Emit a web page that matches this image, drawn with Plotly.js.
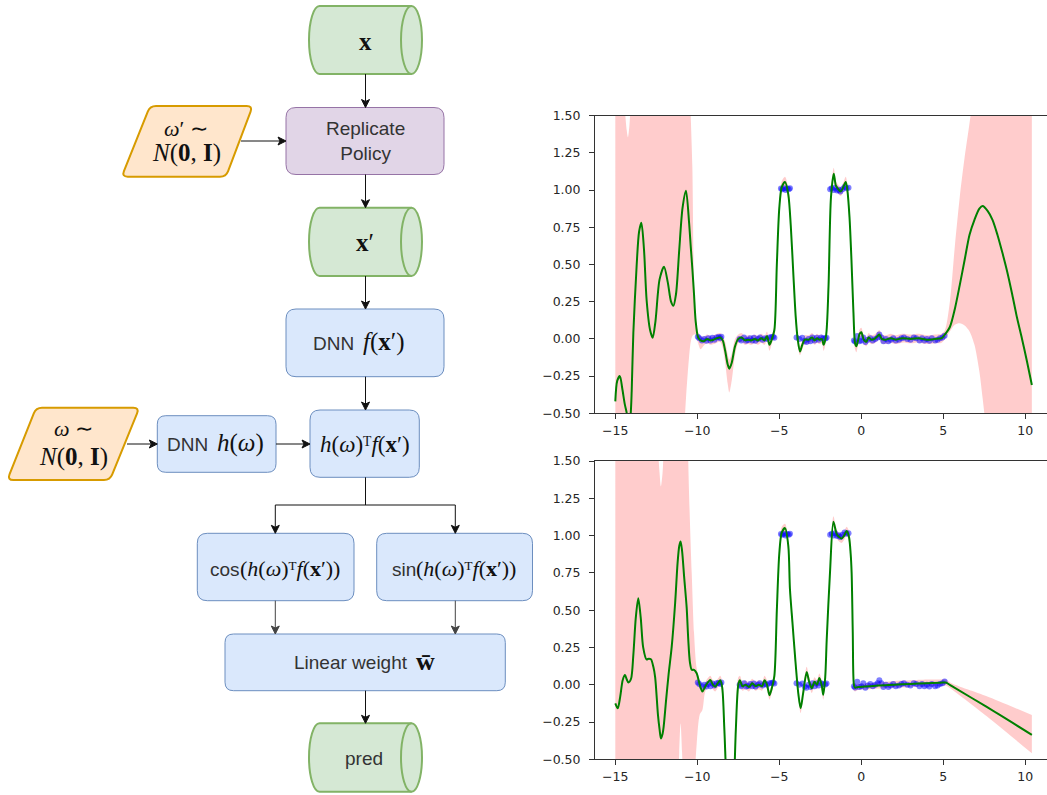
<!DOCTYPE html>
<html>
<head>
<meta charset="utf-8">
<script src="https://cdn.plot.ly/plotly-3.0.1.min.js"></script>
<style>html,body{margin:0;padding:0;background:#fff}#chart{width:1047px;height:795px}</style>
</head>
<body>
<div id="chart"></div>
<script>
// ---------------- data: top panel ----------------
const topX = [-15.0,-14.88,-14.72,-14.58,-14.42,-14.3,-14.23,-14.15,-14.06,-14.0,
 -13.9,-13.7,-13.55,-13.41,-13.25,-13.09,-12.88,-12.72,-12.55,-12.3,
 -12.03,-11.8,-11.6,-11.46,-11.3,-11.1,-10.9,-10.69,-10.5,-10.4,
 -10.3,-10.2,-10.1,-9.95,-9.8,-9.6,-9.4,-9.2,-9.0,-8.8,
 -8.6,-8.45,-8.3,-8.15,-8.05,-7.9,-7.7,-7.5,-7.3,-7.1,
 -6.9,-6.7,-6.5,-6.3,-6.1,-5.9,-5.75,-5.6,-5.45,-5.3,
 -5.15,-5.0,-4.85,-4.65,-4.45,-4.3,-4.15,-4.0,-3.88,-3.74,
 -3.6,-3.45,-3.2,-3.0,-2.85,-2.7,-2.55,-2.4,-2.3,-2.15,
 -2.0,-1.85,-1.68,-1.55,-1.4,-1.25,-1.1,-0.95,-0.85,-0.72,
 -0.6,-0.48,-0.38,-0.3,-0.2,-0.1,0.0,0.15,0.3,0.45,
 0.6,0.8,1.0,1.1,1.25,1.5,1.8,2.1,2.5,3.0,
 3.5,4.0,4.5,4.9,5.1,5.4,5.7,6.0,6.3,6.6,
 6.9,7.2,7.4,7.7,8.0,8.3,8.6,8.9,9.2,9.5,
 9.8,10.1,10.4];
const topMean = [-0.42,-0.28,-0.25,-0.33,-0.44,-0.5,-0.56,-0.58,-0.5,-0.35,
 0.04,0.49,0.72,0.78,0.6,0.26,0.06,0.008,0.12,0.4,
 0.485,0.38,0.25,0.223,0.3,0.6,0.88,0.996,0.78,0.62,
 0.47,0.3,0.12,0.01,-0.01,-0.015,0.0,-0.01,-0.005,0.005,
 0.01,-0.01,-0.08,-0.17,-0.2,-0.16,-0.05,0.0,0.01,-0.01,
 -0.005,-0.01,0.0,-0.01,0.005,-0.01,0.02,-0.04,0.0,0.06,
 0.5,0.88,1.02,1.055,0.97,0.76,0.45,0.15,0.0,-0.085,
 -0.04,-0.005,-0.005,0.01,-0.01,0.005,-0.005,0.0,-0.04,0.02,
 0.35,0.95,1.11,1.03,1.005,0.99,1.02,1.055,1.0,0.82,
 0.53,0.18,-0.03,-0.05,-0.01,0.035,0.045,-0.005,-0.02,0.01,
 -0.005,0.0,0.02,0.03,0.0,-0.005,0.005,-0.005,0.005,0.0,
 0.005,-0.005,0.0,0.005,0.03,0.08,0.2,0.36,0.53,0.7,
 0.8,0.875,0.893,0.86,0.8,0.7,0.58,0.45,0.3,0.14,
 0.0,-0.15,-0.31];
const topLo = [-3,-3,-3,-3,-3,-3,-3,-3,-3,-3,
 -3,-3,-3,-3,-3,-3,-3,-3,-3,-3,
 -3,-3,-3,-2.5,-2.0,-1.4,-0.85,-0.4,-0.12,-0.02,
 0.02,0.03,0.03,-0.03,-0.07,-0.045,-0.03,-0.04,-0.035,-0.025,
 -0.02,-0.06,-0.16,-0.3,-0.36,-0.28,-0.11,-0.03,-0.02,-0.04,
 -0.035,-0.04,-0.03,-0.04,-0.025,-0.04,-0.01,-0.08,-0.03,0.03,
 0.46,0.84,0.99,1.02,0.93,0.72,0.41,0.11,-0.04,-0.11,
 -0.07,-0.035,-0.035,-0.02,-0.04,-0.025,-0.035,-0.03,-0.08,-0.01,
 0.31,0.91,1.07,1.0,0.975,0.96,0.99,1.02,0.96,0.78,
 0.49,0.14,-0.07,-0.09,-0.04,0.005,0.015,-0.035,-0.05,-0.02,
 -0.035,-0.03,-0.01,0.0,-0.03,-0.035,-0.025,-0.035,-0.025,-0.03,
 -0.025,-0.035,-0.03,-0.025,0.0,0.05,0.095,0.105,0.09,0.05,
 -0.04,-0.22,-0.4,-0.7,-1.0,-1.3,-1.6,-2.0,-2.4,-2.8,
 -3,-3,-3];
const topHi = [3,3,2.6,2.0,1.55,1.4,1.355,1.42,1.6,2.0,
 2.6,3,3,3,3,3,3,3,3,3,
 3,3,3,3,3,3,3,2.8,1.9,1.5,
 1.15,0.36,0.16,0.045,0.02,0.015,0.03,0.02,0.025,0.035,
 0.04,0.02,-0.02,-0.1,-0.14,-0.1,0.0,0.03,0.04,0.02,
 0.025,0.02,0.03,0.02,0.035,0.02,0.05,-0.01,0.03,0.09,
 0.54,0.92,1.06,1.09,1.01,0.8,0.49,0.19,0.03,-0.05,
 -0.01,0.025,0.025,0.04,0.02,0.035,0.025,0.03,-0.01,0.05,
 0.39,0.99,1.15,1.06,1.035,1.02,1.05,1.09,1.04,0.86,
 0.57,0.22,0.0,-0.02,0.02,0.065,0.075,0.025,0.01,0.04,
 0.025,0.03,0.05,0.06,0.03,0.025,0.035,0.025,0.035,0.03,
 0.035,0.025,0.03,0.035,0.06,0.25,0.62,0.95,1.22,1.45,
 1.7,2.0,2.3,2.6,3,3,3,3,3,3,
 3,3,3];

// ---------------- data: bottom panel ----------------
const botX = [-15.0,-14.85,-14.7,-14.55,-14.41,-14.3,-14.2,-14.04,-13.9,-13.75,
 -13.6,-13.45,-13.3,-13.1,-12.95,-12.82,-12.68,-12.57,-12.4,-12.3,
 -12.22,-12.12,-12.05,-11.9,-11.75,-11.56,-11.35,-11.2,-11.1,-11.02,
 -10.93,-10.8,-10.65,-10.55,-10.45,-10.34,-10.2,-10.04,-9.85,-9.69,
 -9.55,-9.45,-9.21,-9.05,-8.91,-8.75,-8.6,-8.48,-8.35,-8.2,
 -8.0,-7.8,-7.65,-7.5,-7.4,-7.25,-7.05,-6.85,-6.65,-6.45,
 -6.25,-6.05,-5.9,-5.75,-5.6,-5.45,-5.3,-5.15,-5.0,-4.85,
 -4.65,-4.45,-4.35,-4.2,-4.04,-3.84,-3.7,-3.55,-3.33,-3.18,
 -3.02,-2.85,-2.7,-2.56,-2.42,-2.32,-2.2,-2.11,-1.91,-1.7,
 -1.5,-1.35,-1.2,-1.05,-0.89,-0.75,-0.65,-0.59,-0.52,-0.45,
 -0.38,-0.2,0.5,1.0,2.0,3.0,4.0,4.8,5.15,5.5,
 7.65,10.4];
const botMean = [-0.125,-0.158,-0.08,0.03,0.065,0.035,0.015,0.04,0.2,0.45,
 0.58,0.45,0.25,0.17,0.175,0.17,0.12,0.05,-0.2,-0.3,
 -0.36,-0.33,-0.28,-0.1,0.07,0.255,0.55,0.82,0.93,0.96,
 0.9,0.72,0.52,0.3,0.15,0.1,0.1,0.077,0.0,-0.046,
 -0.02,0.0,0.032,0.0,-0.013,0.01,0.03,-0.02,-0.3,-0.7,
 -0.95,-0.75,-0.3,0.0,0.03,-0.01,0.0,-0.015,0.01,-0.01,
 0.0,-0.01,0.03,0.0,-0.07,-0.02,0.06,0.5,0.88,1.02,
 1.05,0.93,0.64,0.42,0.19,-0.06,-0.157,-0.06,0.085,0.02,
 -0.023,0.02,0.0,0.045,0.0,-0.068,0.05,0.3,0.75,1.093,
 1.01,0.99,0.98,1.0,1.03,0.99,0.88,0.75,0.35,0.0,
 -0.02,-0.015,-0.01,-0.005,0.0,0.005,0.01,0.013,0.015,-0.008,
 -0.149,-0.336];
const botLo = [-3,-3,-3,-3,-3,-3,-3,-3,-3,-3,
 -3,-3,-3,-3,-3,-3,-3,-3,-3,-3,
 -3,-3,-3,-3,-3,-3,-2.2,-1.0,-0.45,-0.26,
 -0.45,-1.2,-1.6,-1.5,-1.3,-1.0,-0.7,-0.4,-0.2,-0.17,
 -0.06,-0.03,0.0,-0.03,-0.045,-0.02,0.0,-0.07,-0.38,-0.8,
 -1.05,-0.85,-0.38,-0.05,0.0,-0.04,-0.03,-0.045,-0.02,-0.04,
 -0.03,-0.04,0.0,-0.03,-0.1,-0.05,0.03,0.46,0.84,0.99,
 1.02,0.89,0.6,0.38,0.15,-0.09,-0.19,-0.09,0.05,-0.01,
 -0.055,-0.01,-0.03,0.015,-0.03,-0.1,0.02,0.26,0.71,1.06,
 0.98,0.96,0.95,0.97,1.0,0.95,0.84,0.71,0.31,-0.04,
 -0.045,-0.035,-0.03,-0.025,-0.02,-0.015,-0.01,-0.008,-0.005,-0.03,
 -0.211,-0.46];
const botHi = [3,3,3,3,3,3,3,3,3,3,
 3,3,3,3,3,3,2.8,2.3,1.6,1.42,
 1.33,1.42,1.6,2.3,2.8,3,3,3,3,3,
 3,3,2.5,1.5,1.1,0.75,0.35,0.11,0.03,-0.015,
 0.01,0.03,0.06,0.03,0.02,0.04,0.06,0.02,-0.22,-0.6,
 -0.85,-0.65,-0.22,0.05,0.06,0.02,0.03,0.015,0.04,0.02,
 0.03,0.02,0.06,0.03,-0.04,0.01,0.09,0.54,0.92,1.06,
 1.08,0.97,0.68,0.46,0.23,-0.03,-0.125,-0.03,0.12,0.05,
 0.01,0.05,0.03,0.075,0.03,-0.035,0.08,0.34,0.79,1.13,
 1.04,1.02,1.01,1.03,1.06,1.03,0.92,0.79,0.39,0.04,
 0.005,0.005,0.01,0.015,0.025,0.03,0.035,0.035,0.035,0.01,
 -0.077,-0.203];

// ---------------- training points (both panels) ----------------
const ptsX = [-9.97,-9.88,-9.72,-9.58,-9.45,-9.33,-9.2,-9.08,-8.95,-8.82,-8.7,-8.6,-8.53,
 -7.42,-7.32,-7.15,-7.02,-6.9,-6.78,-6.65,-6.55,-6.45,-6.3,-6.18,-6.02,-5.88,-5.75,-5.6,-5.48,-5.38,-5.3,
 -4.9,-4.82,-4.72,-4.62,-4.52,-4.42,-4.35,
 -3.95,-3.78,-3.6,-3.45,-3.35,-3.22,-3.1,-2.98,-2.85,-2.72,-2.6,-2.45,-2.32,-2.2,-2.12,
 -1.9,-1.8,-1.7,-1.6,-1.48,-1.38,-1.28,-1.15,-1.02,-0.9,-0.78,
 -0.45,-0.38,-0.25,-0.12,0.0,0.12,0.25,0.4,0.55,0.7,0.85,1.0,1.1,1.22,1.35,1.5,1.65,1.8,1.95,2.1,
 2.3,2.45,2.6,2.8,3.0,3.2,3.35,3.55,3.7,3.85,4.0,4.15,4.3,4.5,4.65,4.8,4.95,5.08];
const ptsY = [0.015,0.005,-0.01,0.0,-0.012,0.005,-0.01,0.008,-0.005,0.01,0.012,0.005,0.015,
 0.0,-0.01,0.01,-0.012,-0.008,0.005,-0.01,0.008,-0.012,0.0,0.01,-0.005,0.005,0.0,0.01,0.012,0.015,0.008,
 1.01,1.005,1.012,1.0,1.01,1.005,1.012,
 0.01,0.0,0.008,-0.012,-0.02,0.0,-0.015,0.01,-0.01,0.008,-0.005,0.01,0.005,0.002,0.008,
 1.005,1.012,1.0,1.015,0.998,1.002,0.99,1.005,1.02,1.012,1.015,
 -0.01,-0.018,0.02,-0.015,-0.01,0.01,-0.02,-0.005,0.005,-0.01,0.0,0.01,0.03,0.01,-0.015,0.0,-0.015,-0.005,0.005,-0.01,
 -0.005,0.005,0.01,0.0,-0.005,0.01,0.005,-0.01,0.005,-0.01,0.0,-0.012,0.005,-0.01,-0.005,0.005,0.01,0.022];

const xTicks = [-15,-10,-5,0,5,10];
const yTicks = [-0.5,-0.25,0,0.25,0.5,0.75,1,1.25,1.5];

// ---------------- flowchart labels ----------------
const SERIF = 'Liberation Serif, Times New Roman, serif';
const SANS = 'Liberation Sans, Arial, sans-serif';
const hfText = '<i>h</i>(<i>ω</i>)ᵀ<i>f</i>(<b>x</b>′)';
const labels = {
  x: '<b>x</b>',
  rep: 'Replicate<br>Policy',
  w1a: '<i>ω</i>′ ∼',
  w1b: '<i>N</i>(<b>0</b>, <b>I</b>)',
  xp: '<b>x</b>′',
  dnn: 'DNN',
  fx: '<i>f</i>(<b>x</b>′)',
  w2a: '<i>ω</i> ∼',
  w2b: '<i>N</i>(<b>0</b>, <b>I</b>)',
  hw: '<i>h</i>(<i>ω</i>)',
  hf: hfText,
  cos: 'cos',
  sin: 'sin',
  arg: '(' + hfText + ')',
  lin: 'Linear weight',
  wbar: '<b>w̄</b>',
  pred: 'pred'
};

// ---------------- traces ----------------
const SM = 0.8;
function panel(xs, mean, lo, hi, xa, ya){
  return [
    {x: xs, y: lo, xaxis: xa, yaxis: ya, mode: 'lines', line: {width: 0, shape: 'spline', smoothing: SM}, hoverinfo: 'skip', showlegend: false},
    {x: xs, y: hi, xaxis: xa, yaxis: ya, mode: 'lines', fill: 'tonexty', fillcolor: 'rgba(255,0,0,0.2)', line: {width: 0, shape: 'spline', smoothing: SM}, hoverinfo: 'skip', showlegend: false},
    {x: ptsX, y: ptsY, xaxis: xa, yaxis: ya, mode: 'markers', marker: {size: 6, color: 'rgba(0,0,255,0.5)'}, hoverinfo: 'skip', showlegend: false},
    {x: xs, y: mean, xaxis: xa, yaxis: ya, mode: 'lines', line: {color: '#008000', width: 2, shape: 'spline', smoothing: SM}, hoverinfo: 'skip', showlegend: false}
  ];
}
const traces = [].concat(
  panel(topX, topMean, topLo, topHi, 'x', 'y'),
  panel(botX, botMean, botLo, botHi, 'x2', 'y2'),
  [{x: [0], y: [0], xaxis: 'x3', yaxis: 'y3', mode: 'markers', marker: {opacity: 0}, hoverinfo: 'skip', showlegend: false}]
);

// ---------------- flowchart geometry helpers ----------------
function roundRect(x0, y0, x1, y1, r){
  return `M${x0+r},${y0} L${x1-r},${y0} Q${x1},${y0} ${x1},${y0+r} L${x1},${y1-r} Q${x1},${y1} ${x1-r},${y1} L${x0+r},${y1} Q${x0},${y1} ${x0},${y1-r} L${x0},${y0+r} Q${x0},${y0} ${x0+r},${y0} Z`;
}
function roundPoly(pts, r){
  const n = pts.length, a = [], b = [];
  for (let i = 0; i < n; i++){
    const v = pts[i], p = pts[(i+n-1)%n], q = pts[(i+1)%n];
    const dp = Math.hypot(p[0]-v[0], p[1]-v[1]), dq = Math.hypot(q[0]-v[0], q[1]-v[1]);
    a.push([v[0] + r*(p[0]-v[0])/dp, v[1] + r*(p[1]-v[1])/dp]);
    b.push([v[0] + r*(q[0]-v[0])/dq, v[1] + r*(q[1]-v[1])/dq]);
  }
  let s = `M${a[0][0]},${a[0][1]} Q${pts[0][0]},${pts[0][1]} ${b[0][0]},${b[0][1]}`;
  for (let i = 1; i < n; i++) s += ` L${a[i][0]},${a[i][1]} Q${pts[i][0]},${pts[i][1]} ${b[i][0]},${b[i][1]}`;
  return s + ' Z';
}
function cylinder(x0, y0, x1, y1, rx){
  const k = 0.5523, ry = (y1-y0)/2, cy = (y0+y1)/2, cl = x0+rx, cr = x1-rx;
  const outer = `M${cr},${y0} L${cl},${y0} C${cl-k*rx},${y0} ${x0},${cy-k*ry} ${x0},${cy} C${x0},${cy+k*ry} ${cl-k*rx},${y1} ${cl},${y1} L${cr},${y1} C${cr+k*rx},${y1} ${x1},${cy+k*ry} ${x1},${cy} C${x1},${cy-k*ry} ${cr+k*rx},${y0} ${cr},${y0} Z`;
  const inner = `M${cr},${y0} C${cr-k*rx},${y0} ${cr-rx},${cy-k*ry} ${cr-rx},${cy} C${cr-rx},${cy+k*ry} ${cr-k*rx},${y1} ${cr},${y1}`;
  return [
    {type: 'path', xref: 'x3', yref: 'y3', path: outer, fillcolor: '#d5e8d4', line: {color: '#82b366', width: 2}},
    {type: 'path', xref: 'x3', yref: 'y3', path: inner, fillcolor: 'rgba(0,0,0,0)', line: {color: '#82b366', width: 2}}
  ];
}
function box(x0, y0, x1, y1, r, fill, stroke, w){
  return {type: 'path', xref: 'x3', yref: 'y3', path: roundRect(x0, y0, x1, y1, r), fillcolor: fill, line: {color: stroke, width: w || 1}};
}
function para(pts){
  return {type: 'path', xref: 'x3', yref: 'y3', path: roundPoly(pts, 6), fillcolor: '#ffe6cc', line: {color: '#d79b00', width: 2}};
}
function seg(x0, y0, x1, y1, color){
  return {type: 'line', xref: 'x3', yref: 'y3', x0: x0, y0: y0, x1: x1, y1: y1, line: {color: color || '#111', width: 1}};
}
// arrow = line + notched "classic" head, drawn as shapes
function arrow(x0, y0, x1, y1, color){
  const c = color || '#111';
  const L = Math.hypot(x1-x0, y1-y0), ux = (x1-x0)/L, uy = (y1-y0)/L, px = -uy, py = ux;
  const len = 8, hw = 4, notch = 6;
  const bx = x1 - ux*len, by = y1 - uy*len;
  const nx = x1 - ux*notch, ny = y1 - uy*notch;
  const head = `M${x1},${y1} L${bx+px*hw},${by+py*hw} L${nx},${ny} L${bx-px*hw},${by-py*hw} Z`;
  return [
    seg(x0, y0, nx, ny, c),
    {type: 'path', xref: 'x3', yref: 'y3', path: head, fillcolor: c, line: {color: c, width: 1}}
  ];
}
const BLUE = ['#dae8fc', '#6c8ebf'];
const shapes = [].concat(
  cylinder(309, 6, 422, 74, 10.5),
  [box(286, 107.5, 444, 174.5, 10, '#e1d5e7', '#9673a6')],
  [para([[150, 106], [252.7, 106], [226, 176.7], [121.7, 176.7]])],
  cylinder(309, 207.7, 422, 276, 10.5),
  [box(286, 309, 444, 376.7, 10, BLUE[0], BLUE[1])],
  [para([[36, 407.7], [139.3, 407.7], [110, 480], [7.3, 480]])],
  [box(157.3, 415.7, 276, 472.3, 8.5, BLUE[0], BLUE[1])],
  [box(310, 410, 419.3, 477.3, 10, BLUE[0], BLUE[1])],
  [box(197.3, 533.3, 354, 600.7, 10, BLUE[0], BLUE[1])],
  [box(376.7, 533.3, 532.5, 600.7, 10, BLUE[0], BLUE[1])],
  [box(225, 634, 505.3, 690.7, 8.5, BLUE[0], BLUE[1])],
  cylinder(309, 723.3, 422, 791.7, 10.5),
  [seg(365.5, 477.3, 365.5, 505), seg(275.3, 505, 455.3, 505)],
  arrow(365.5, 74, 365.5, 107.5),
  arrow(241, 141, 286, 141),
  arrow(365.5, 174.5, 365.5, 207.7),
  arrow(365.5, 276, 365.5, 309),
  arrow(365.5, 376.7, 365.5, 410),
  arrow(127, 444, 157.3, 444),
  arrow(276, 444, 310, 444),
  arrow(275.3, 505, 275.3, 533.3),
  arrow(455.3, 505, 455.3, 533.3),
  arrow(275.3, 600.7, 275.3, 634, '#444'),
  arrow(455.3, 600.7, 455.3, 634, '#444'),
  arrow(365.5, 690.7, 365.5, 723.3)
);

function ann(x, y, text, family, size, color, anchor){
  return {xref: 'x3', yref: 'y3', x: x, y: y, text: text, showarrow: false, xanchor: anchor || 'center', yanchor: 'middle',
          font: {family: family, size: size, color: color || '#222'}};
}
const annotations = [
  ann(365, 41, labels.x, SERIF, 25, '#111'),
  ann(365, 141, labels.rep, SANS, 19, '#333'),
  ann(186, 128, labels.w1a, SERIF, 22, '#111'),
  ann(186, 153, labels.w1b, SERIF, 25, '#111'),
  ann(365, 242, labels.xp, SERIF, 25, '#111'),
  ann(356, 343, labels.dnn, SANS, 19, '#333', 'right'),
  ann(361, 342, labels.fx, SERIF, 25, '#111', 'left'),
  ann(210, 444, labels.dnn, SANS, 19, '#333', 'right'),
  ann(215, 443, labels.hw, SERIF, 25, '#111', 'left'),
  ann(73, 428, labels.w2a, SERIF, 22, '#111'),
  ann(73, 456.5, labels.w2b, SERIF, 25, '#111'),
  ann(364.7, 444, labels.hf, SERIF, 23, '#111'),
  ann(242, 569, labels.cos, SANS, 19, '#333', 'right'),
  ann(238, 568, labels.arg, SERIF, 22, '#111', 'left'),
  ann(418, 569, labels.sin, SANS, 19, '#333', 'right'),
  ann(414, 568, labels.arg, SERIF, 22, '#111', 'left'),
  ann(410, 662, labels.lin, SANS, 19, '#333', 'right'),
  ann(414, 661, labels.wbar, SERIF, 26, '#111', 'left'),
  ann(364, 758, labels.pred, SANS, 19, '#333')
];

// ---------------- axes ----------------
const tickFont = {family: 'DejaVu Sans, sans-serif', size: 12.5, color: '#262626'};
function xAx(anchor){
  return {domain: [595/1047, 1], range: [-16.238, 11.323], anchor: anchor, tickvals: xTicks, ticks: 'outside', ticklen: 5,
          tickwidth: 1, tickcolor: '#333', showline: true, linecolor: '#333', linewidth: 1, mirror: true,
          showgrid: false, zeroline: false, tickfont: tickFont, ticklabelstandoff: 1, fixedrange: true};
}
function yAx(anchor, dom){
  return {domain: dom, range: [-0.5, 1.5], anchor: anchor, tickvals: yTicks, tickformat: '.2f', ticks: 'outside', ticklen: 5,
          tickwidth: 1, tickcolor: '#333', showline: true, linecolor: '#333', linewidth: 1, mirror: false,
          showgrid: false, zeroline: false, tickfont: tickFont, ticklabelstandoff: 6, fixedrange: true};
}
const layout = {
  width: 1047, height: 795, autosize: false,
  margin: {l: 0, r: 0, t: 0, b: 0, pad: 0},
  paper_bgcolor: '#ffffff', plot_bgcolor: 'rgba(0,0,0,0)',
  showlegend: false,
  xaxis: xAx('y'),
  yaxis: yAx('x', [0.4801, 0.8545]),
  xaxis2: xAx('y2'),
  yaxis2: yAx('x2', [0.0449, 0.4201]),
  xaxis3: {domain: [0, 1], range: [0, 1047], anchor: 'y3', visible: false, fixedrange: true},
  yaxis3: {domain: [0, 1], range: [795, 0], anchor: 'x3', visible: false, fixedrange: true},
  shapes: shapes,
  annotations: annotations
};
Plotly.newPlot('chart', traces, layout, {displayModeBar: false, staticPlot: true});
</script>
</body>
</html>
